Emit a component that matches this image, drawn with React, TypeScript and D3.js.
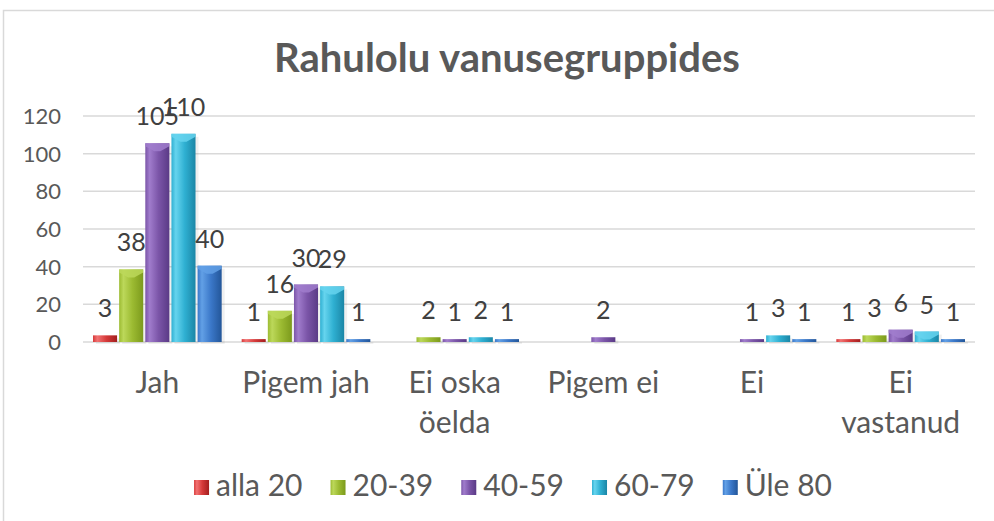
import React, { useEffect, useRef } from "react";
import * as d3 from "d3";

// chart data
const categories = ["Jah", "Pigem jah", "Ei oska öelda", "Pigem ei", "Ei", "Ei vastanud"];
const seriesNames = ["alla 20", "20-39", "40-59", "60-79", "Üle 80"];
const alla20 = [3, 1, null, null, null, 1];
const vanus20_39 = [38, 16, 2, null, null, 3];
const vanus40_59 = [105, 30, 1, 2, 1, 6];
const vanus60_79 = [110, 29, 2, null, 3, 5];
const yle80 = [40, 1, 1, null, 1, 1];
const yTicks = [0, 20, 40, 60, 80, 100, 120];

const seriesValues = [alla20, vanus20_39, vanus40_59, vanus60_79, yle80];

// base, light, dark
const palette = [
  ["#d63a3a", "#f27272", "#a31f1f"],
  ["#9cbb32", "#bcd85a", "#7c9a1c"],
  ["#7b55a8", "#a07ccc", "#5a3a86"],
  ["#2fb0d2", "#66d4ee", "#1b86a6"],
  ["#3b78c9", "#62a0e6", "#235699"],
];

const FONT = "Lato, 'Open Sans', sans-serif";

const App = () => {
  const ref = useRef<SVGSVGElement>(null);

  const W = 994;
  const H = 521;
  const plot = { left: 83, right: 975, top: 116, bottom: 342 };

  useEffect(() => {
    const svg = d3.select(ref.current);
    svg.selectAll("*").remove();

    const defs = svg.append("defs");
    palette.forEach((c, i) => {
      const g = defs
        .append("linearGradient")
        .attr("id", `bar${i}`)
        .attr("x1", "0")
        .attr("x2", "1")
        .attr("y1", "0")
        .attr("y2", "0");
      g.append("stop").attr("offset", "0%").attr("stop-color", c[0]);
      g.append("stop").attr("offset", "18%").attr("stop-color", c[1]);
      g.append("stop").attr("offset", "55%").attr("stop-color", c[0]);
      g.append("stop").attr("offset", "100%").attr("stop-color", c[2]);
    });

    // outer border
    svg
      .append("rect")
      .attr("x", 3.5)
      .attr("y", 10.5)
      .attr("width", W)
      .attr("height", H)
      .attr("fill", "#fff")
      .attr("stroke", "#d9d9d9")
      .attr("stroke-width", 1.5);

    // title
    svg
      .append("text")
      .attr("x", 507)
      .attr("y", 72)
      .attr("text-anchor", "middle")
      .style("font-family", FONT)
      .style("font-size", "40px")
      .style("font-weight", "bold")
      .attr("fill", "#595959")
      .text("Rahulolu vanusegruppides");

    const x0 = d3.scaleBand().domain(categories).range([plot.left, plot.right]);
    const x1 = d3
      .scaleBand()
      .domain(seriesNames)
      .range([10, x0.bandwidth() - 10])
      .paddingInner(0.08);
    const y = d3.scaleLinear().domain([0, 120]).range([plot.bottom, plot.top]);

    // grid
    svg
      .append("g")
      .selectAll("line")
      .data(yTicks)
      .enter()
      .append("line")
      .attr("x1", plot.left)
      .attr("x2", plot.right)
      .attr("y1", (d) => y(d))
      .attr("y2", (d) => y(d))
      .attr("stroke", "#d9d9d9")
      .attr("stroke-width", 1.5);

    // y labels
    svg
      .append("g")
      .selectAll("text")
      .data(yTicks)
      .enter()
      .append("text")
      .attr("x", 61)
      .attr("y", (d) => y(d))
      .attr("dy", "0.36em")
      .attr("text-anchor", "end")
      .style("font-family", FONT)
      .style("font-size", "22px")
      .attr("fill", "#595959")
      .text((d) => d);

    // bars
    const bars = seriesValues.flatMap((vals, si) =>
      vals.map((v, ci) => ({ si, ci, v }))
    ).filter((d) => d.v !== null) as { si: number; ci: number; v: number }[];

    const bx = (d) => x0(categories[d.ci])! + x1(seriesNames[d.si])!;
    const bw = x1.bandwidth();

    const gBars = svg.append("g");
    gBars
      .selectAll("rect.shadow")
      .data(bars)
      .enter()
      .append("rect")
      .attr("x", (d) => bx(d) + 3)
      .attr("y", (d) => y(d.v) + 2)
      .attr("width", bw)
      .attr("height", (d) => plot.bottom - y(d.v))
      .attr("fill", "#000")
      .attr("opacity", 0.06);

    gBars
      .selectAll("rect.bar")
      .data(bars)
      .enter()
      .append("rect")
      .attr("x", bx)
      .attr("y", (d) => y(d.v) - 1)
      .attr("width", bw)
      .attr("height", (d) => plot.bottom - y(d.v) + 1)
      .attr("fill", (d) => `url(#bar${d.si})`);

    // light top caps
    gBars
      .selectAll("path.cap")
      .data(bars.filter((d) => plot.bottom - y(d.v) > 8))
      .enter()
      .append("path")
      .attr("d", (d) => {
        const x = bx(d);
        const t = y(d.v) - 1;
        return `M${x},${t} L${x + bw},${t} L${x + bw},${t + 3} L${x + bw / 2 + 3},${t + 8} L${x + bw / 2 - 3},${t + 8} L${x},${t + 3} Z`;
      })
      .attr("fill", (d) => palette[d.si][1])
      .attr("opacity", 0.85);

    // data labels
    svg
      .append("g")
      .selectAll("text")
      .data(bars)
      .enter()
      .append("text")
      .attr("x", (d) => bx(d) + bw / 2)
      .attr("y", (d) => y(d.v) - 19)
      .attr("text-anchor", "middle")
      .style("font-family", FONT)
      .style("font-size", "25px")
      .attr("fill", "#404040")
      .text((d) => d.v);

    // category labels, wrapped to the band
    const catG = svg.append("g");
    categories.forEach((c) => {
      const cxm = x0(c)! + x0.bandwidth() / 2;
      const t = catG
        .append("text")
        .attr("x", cxm)
        .attr("y", 393)
        .attr("text-anchor", "middle")
        .style("font-family", FONT)
        .style("font-size", "30px")
        .attr("fill", "#595959");
      const words = c.split(" ");
      let line: string[] = [];
      let tspan = t.append("tspan").attr("x", cxm).attr("dy", 0);
      words.forEach((w) => {
        line.push(w);
        tspan.text(line.join(" "));
        if ((tspan.node() as SVGTSpanElement).getComputedTextLength() > 140 && line.length > 1) {
          line.pop();
          tspan.text(line.join(" "));
          line = [w];
          tspan = t.append("tspan").attr("x", cxm).attr("dy", 40).text(w);
        }
      });
    });

    // legend
    const leg = svg.append("g");
    const items = seriesNames.map((s, i) => {
      const g = leg.append("g");
      g.append("rect")
        .attr("x", 0)
        .attr("y", 480)
        .attr("width", 15)
        .attr("height", 15)
        .attr("fill", `url(#bar${i})`);
      const t = g
        .append("text")
        .attr("x", 22)
        .attr("y", 496)
        .style("font-family", FONT)
        .style("font-size", "30px")
        .attr("fill", "#595959")
        .text(s);
      const w = (t.node() as SVGTextElement).getComputedTextLength();
      return { g, w: 22 + w };
    });
    const gap = 28;
    const total = d3.sum(items, (d) => d.w) + gap * (items.length - 1);
    let cx = 513 - total / 2;
    items.forEach((it) => {
      it.g.attr("transform", `translate(${cx},0)`);
      cx += it.w + gap;
    });
  }, []);

  return (
    <svg
      ref={ref}
      width={W}
      height={H}
      style={{ position: "absolute", left: 0, top: 0, background: "#fff" }}
    />
  );
};

export default App;
